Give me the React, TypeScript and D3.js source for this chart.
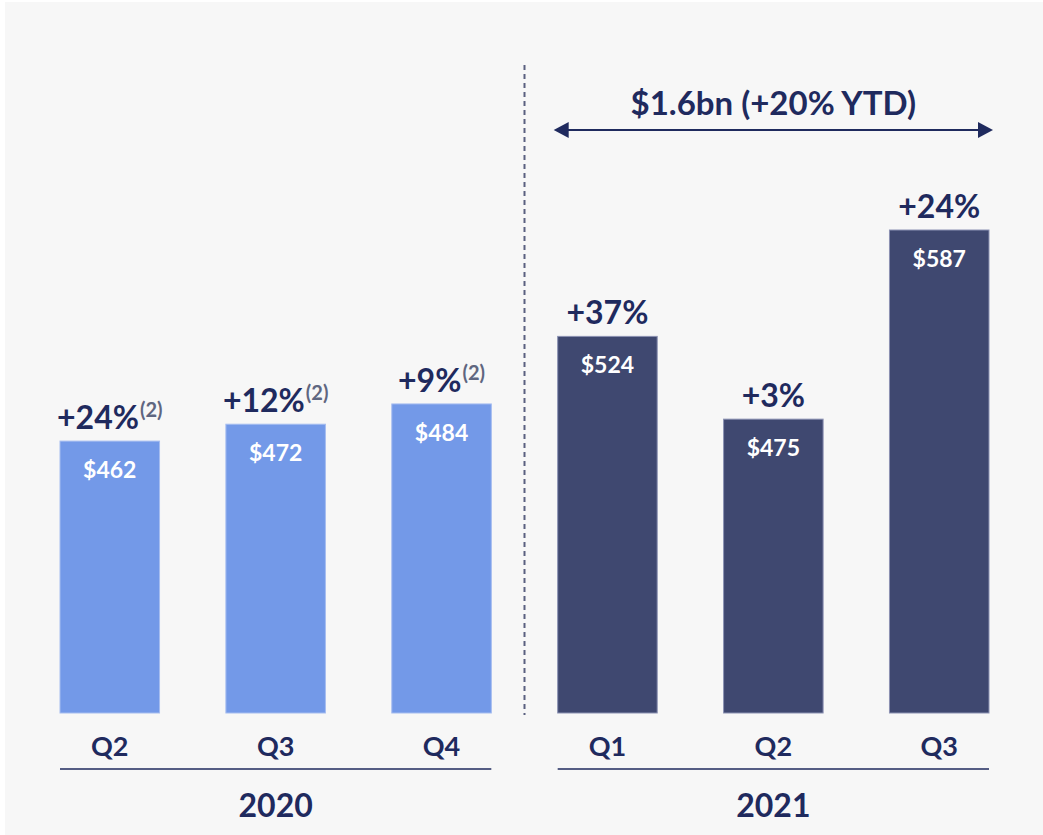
import React from "react";
import * as d3 from "d3";

const quarters = ["Q2", "Q3", "Q4", "Q1", "Q2", "Q3"];
const years = ["2020", "2020", "2020", "2021", "2021", "2021"];
const revenue = [462, 472, 484, 524, 475, 587];
const growth = ["+24%", "+12%", "+9%", "+37%", "+3%", "+24%"];
const footnote = ["(2)", "(2)", "(2)", "", "", ""];
const yearLabels = ["2020", "2021"];
const ytdLabel = "$1.6bn (+20% YTD)";

const W = 1043;
const H = 835;
const FONT = "Lato, 'Open Sans', sans-serif";
const NAVY_TEXT = "#1f2a5e";
const LIGHT = "#7399e8";
const LIGHT_STROKE = "#a6bdf0";
const DARK = "#3f4870";
const DARK_STROKE = "#8c92b3";

export default function App() {
  const keys = quarters.map((q, i) => `${years[i]}-${q}`);
  const x = d3.scaleBand<string>().domain(keys).range([60, 989]).paddingInner(0.4).paddingOuter(0);
  const y = d3.scaleLinear().domain([301, 587]).range([713, 230]);
  const bw = x.bandwidth();

  const groups = yearLabels.map((yr) => {
    const ks = keys.filter((_, i) => years[i] === yr);
    const x0 = x(ks[0])!;
    const x1 = x(ks[ks.length - 1])! + bw;
    return { yr, x0, x1 };
  });

  const g2021 = groups[1];
  const dividerX = (groups[0].x1 + g2021.x0) / 2;
  const arrowY = 130;
  const ax0 = g2021.x0 - 4;
  const ax1 = g2021.x1 + 4;

  return (
    <svg width={W} height={H} style={{ position: "absolute", left: 0, top: 0, display: "block" }} fontFamily={FONT}>
      <rect x={0} y={0} width={W} height={H} fill="#ffffff" />
      <rect x={5} y={2} width={W - 5} height={H - 2} fill="#f7f7f7" />

      {/* divider */}
      <line x1={dividerX} x2={dividerX} y1={65} y2={715} stroke="#5a6080" strokeWidth={2} strokeDasharray="5,4" />

      {/* bars */}
      {keys.map((k, i) => {
        const is2021 = years[i] === "2021";
        const top = y(revenue[i]);
        const cx = x(k)! + bw / 2;
        return (
          <g key={k}>
            <rect
              x={x(k)!}
              y={top}
              width={bw}
              height={y.range()[0] - top}
              fill={is2021 ? DARK : LIGHT}
              stroke={is2021 ? DARK_STROKE : LIGHT_STROKE}
              strokeWidth={1}
            />
            <text x={cx} y={top + 37} textAnchor="middle" fill="#ffffff" fontWeight={700} fontSize={23}>
              ${revenue[i]}
            </text>
            <text x={cx} y={top - 12} textAnchor="middle" fontWeight={700} fontSize={32} fill={NAVY_TEXT}>
              {growth[i]}
              {footnote[i] ? (
                <tspan fontSize={20} fill="#5f6680" dy={-12} dx={1}>
                  {footnote[i]}
                </tspan>
              ) : null}
            </text>
            <text x={cx} y={756} textAnchor="middle" fontWeight={700} fontSize={27} fill={NAVY_TEXT}>
              {quarters[i]}
            </text>
          </g>
        );
      })}

      {/* year groups */}
      {groups.map((g) => (
        <g key={g.yr}>
          <line x1={g.x0} x2={g.x1} y1={769} y2={769} stroke={NAVY_TEXT} strokeWidth={1.6} />
          <text x={(g.x0 + g.x1) / 2} y={817} textAnchor="middle" fontWeight={700} fontSize={32} fill={NAVY_TEXT}>
            {g.yr}
          </text>
        </g>
      ))}

      {/* YTD arrow */}
      <line x1={ax0 + 12} x2={ax1 - 12} y1={arrowY} y2={arrowY} stroke={NAVY_TEXT} strokeWidth={2.2} />
      <path d={`M${ax0},${arrowY} L${ax0 + 15},${arrowY - 8} L${ax0 + 15},${arrowY + 8} Z`} fill={NAVY_TEXT} />
      <path d={`M${ax1},${arrowY} L${ax1 - 15},${arrowY - 8} L${ax1 - 15},${arrowY + 8} Z`} fill={NAVY_TEXT} />
      <text x={(ax0 + ax1) / 2} y={115} textAnchor="middle" fontWeight={700} fontSize={33} fill={NAVY_TEXT}>
        {ytdLabel}
      </text>
    </svg>
  );
}
